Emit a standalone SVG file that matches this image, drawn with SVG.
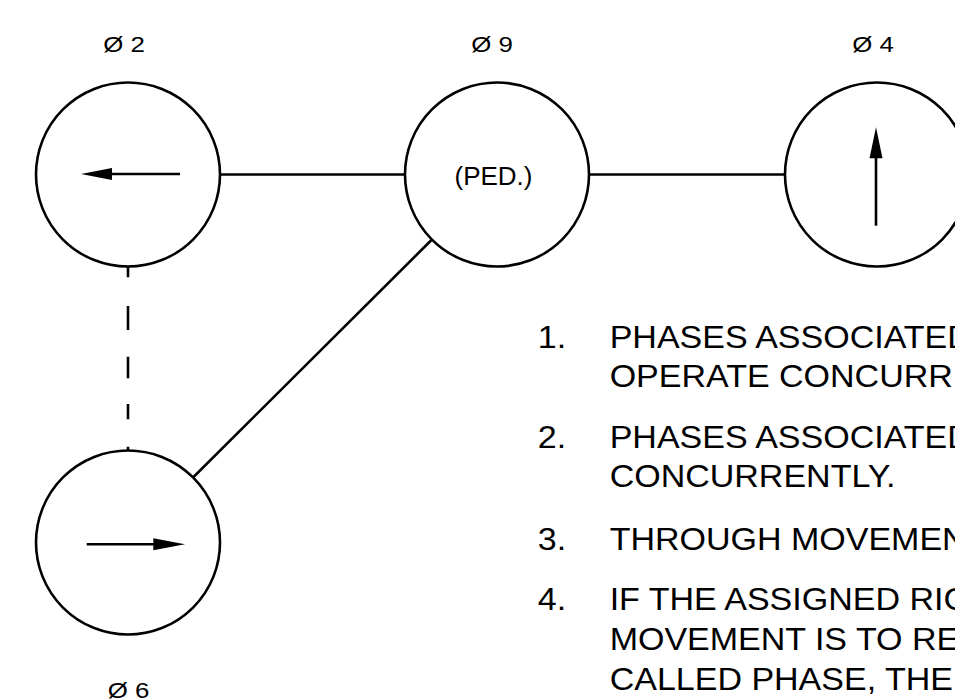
<svg xmlns="http://www.w3.org/2000/svg" width="955" height="700" viewBox="0 0 955 700">
  <style>
    .node { fill: #ffffff; stroke: #000000; stroke-width: 2.6; }
    .conn { fill: none; stroke: #000000; stroke-width: 2.6; }
    .arrow { fill: none; stroke: #000000; stroke-width: 2.6; }
    .head { fill: #000000; stroke: none; }
    .lbl { font-family: "Liberation Sans", Arial, sans-serif; font-size: 22.5px; fill: #000000; text-anchor: middle; }
    .ped { font-family: "Liberation Sans", Arial, sans-serif; font-size: 26px; fill: #000000; text-anchor: middle; }
    .note { font-family: "Liberation Sans", Arial, sans-serif; font-size: 31.5px; fill: #000000; }
  </style>
  <rect x="0" y="0" width="955" height="700" fill="#ffffff"/>

  <g id="connectors">
    <line class="conn" x1="220" y1="174.5" x2="405" y2="174.5"/>
    <line class="conn" x1="589" y1="174.5" x2="785" y2="174.5"/>
    <line class="conn" x1="432" y1="239.5" x2="193" y2="477.5"/>
    <path class="conn" d="M128 266.7 V277.3 M128 306 V330 M128 356.7 V378.3 M128 404 V419.3 M128 446.7 V450.7"/>
  </g>

  <g id="phase2">
    <circle class="node" cx="128" cy="174.5" r="92"/>
    <line class="arrow" x1="180" y1="174" x2="108" y2="174"/>
    <polygon class="head" points="81,174 112,168 112,180"/>
    <text class="lbl" transform="translate(124,51.7) scale(1.15,1)" x="0" y="0">Ø 2</text>
  </g>

  <g id="phase9">
    <circle class="node" cx="497" cy="174.5" r="92"/>
    <text class="ped" x="493.5" y="185">(PED.)</text>
    <text class="lbl" transform="translate(492,51.7) scale(1.15,1)" x="0" y="0">Ø 9</text>
  </g>

  <g id="phase4">
    <circle class="node" cx="877" cy="174.5" r="92"/>
    <line class="arrow" x1="876" y1="225.7" x2="876" y2="155"/>
    <polygon class="head" points="876,127.3 869.5,158.3 882.5,158.3"/>
    <text class="lbl" transform="translate(873,51.7) scale(1.15,1)" x="0" y="0">Ø 4</text>
  </g>

  <g id="phase6">
    <circle class="node" cx="128" cy="542.5" r="92"/>
    <line class="arrow" x1="86.7" y1="544.3" x2="157" y2="544.3"/>
    <polygon class="head" points="185,544.3 153.3,538.3 153.3,550.3"/>
    <text class="lbl" transform="translate(128.5,698) scale(1.15,1)" x="0" y="0">Ø 6</text>
  </g>

  <g id="notes" transform="scale(1.08,1)">
    <text class="note" x="498" y="348.3">1.</text>
    <text class="note" x="564.5" y="348.3">PHASES ASSOCIATED</text>
    <text class="note" x="564.5" y="387">OPERATE CONCURR</text>
    <text class="note" x="498" y="448.3">2.</text>
    <text class="note" x="564.5" y="448.3">PHASES ASSOCIATED</text>
    <text class="note" x="564.5" y="487">CONCURRENTLY.</text>
    <text class="note" x="498" y="550">3.</text>
    <text class="note" x="564.5" y="550">THROUGH MOVEMEN</text>
    <text class="note" x="498" y="610">4.</text>
    <text class="note" x="564.5" y="610">IF THE ASSIGNED RIG</text>
    <text class="note" x="564.5" y="650">MOVEMENT IS TO RE</text>
    <text class="note" x="564.5" y="690">CALLED PHASE, THE</text>
  </g>
</svg>
